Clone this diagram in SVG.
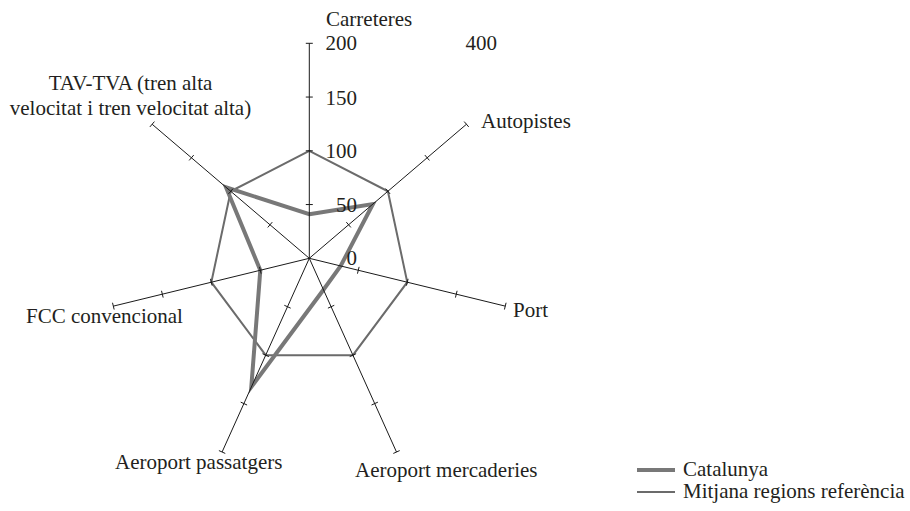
<svg xmlns="http://www.w3.org/2000/svg" width="910" height="511" viewBox="0 0 910 511" font-family="'Liberation Serif', 'Times New Roman', Times, 'DejaVu Serif', serif">
<style>
text{font-family:'Liberation Serif','Times New Roman',Times,'DejaVu Serif',serif;font-size:21px;fill:#231f20}
.ax{stroke:#1a1a1a;stroke-width:1;fill:none}
.avg{stroke:#6b6b6b;stroke-width:2;fill:none;stroke-linejoin:miter}
.cat{stroke:#787878;stroke-width:4;fill:none;stroke-linejoin:miter}
.end{text-anchor:end}
</style>
<rect width="910" height="511" fill="#fff"/>
<g id="series">
<polygon class="avg" points="309.3,150.8 387.87,191.27 407.28,282.22 352.91,355.15 265.69,355.15 211.32,282.22 230.73,191.27"/>
<polygon class="cat" points="309.3,214.22 372.94,204.01 340.65,265.96 323.47,289.78 251.3,387.1 260.31,270.26 226.0,187.3"/>
</g>
<g id="axes" class="ax">
<path d="M309.3,258.3L309.3,43.3M309.3,258.3L466.45,124.25M309.3,258.3L505.26,306.14M309.3,258.3L396.51,452.01M309.3,258.3L222.09,452.01M309.3,258.3L113.34,306.14M309.3,258.3L152.15,124.25"/>
<path d="M305.8,204.55H312.8M305.8,150.8H312.8M305.8,97.05H312.8M305.8,43.3H312.8"/>
<path d="M346.32,222.13L350.86,227.45M385.6,188.61L390.14,193.93M424.89,155.1L429.43,160.42M464.18,121.59L468.72,126.91"/>
<path d="M359.12,266.86L357.46,273.66M408.11,278.82L406.45,285.62M457.1,290.78L455.44,297.58M506.09,302.74L504.43,309.54"/>
<path d="M334.29,305.29L327.91,308.17M356.1,353.71L349.72,356.59M377.9,402.14L371.52,405.02M399.7,450.57L393.32,453.45"/>
<path d="M284.31,305.29L290.69,308.17M262.5,353.71L268.88,356.59M240.7,402.14L247.08,405.02M218.9,450.57L225.28,453.45"/>
<path d="M259.48,266.86L261.14,273.66M210.49,278.82L212.15,285.62M161.5,290.78L163.16,297.58M112.51,302.74L114.17,309.54"/>
<path d="M267.74,227.45L272.28,222.13M228.46,193.93L233,188.61M189.17,160.42L193.71,155.1M149.88,126.91L154.42,121.59"/>
</g>
<g id="scale">
<text class="end" x="357" y="50">200</text>
<text class="end" x="497" y="50">400</text>
<text class="end" x="357" y="105">150</text>
<text class="end" x="357" y="158">100</text>
<text class="end" x="357" y="212">50</text>
<text class="end" x="357" y="265">0</text>
</g>
<g id="labels">
<text x="326" y="26">Carreteres</text>
<text x="481" y="128">Autopistes</text>
<text x="513" y="317">Port</text>
<text x="355" y="477">Aeroport mercaderies</text>
<text x="115" y="469">Aeroport passatgers</text>
<text x="26" y="323">FCC convencional</text>
<text x="130.5" y="90" text-anchor="middle">TAV-TVA (tren alta</text>
<text x="130.5" y="115" text-anchor="middle">velocitat i tren velocitat alta)</text>
</g>
<g id="legend">
<line class="cat" x1="637" y1="470" x2="675" y2="470"/>
<text x="683" y="476">Catalunya</text>
<line class="avg" x1="637" y1="492" x2="675" y2="492" stroke-width="1.5"/>
<text x="683" y="498">Mitjana regions referència</text>
</g>
</svg>
